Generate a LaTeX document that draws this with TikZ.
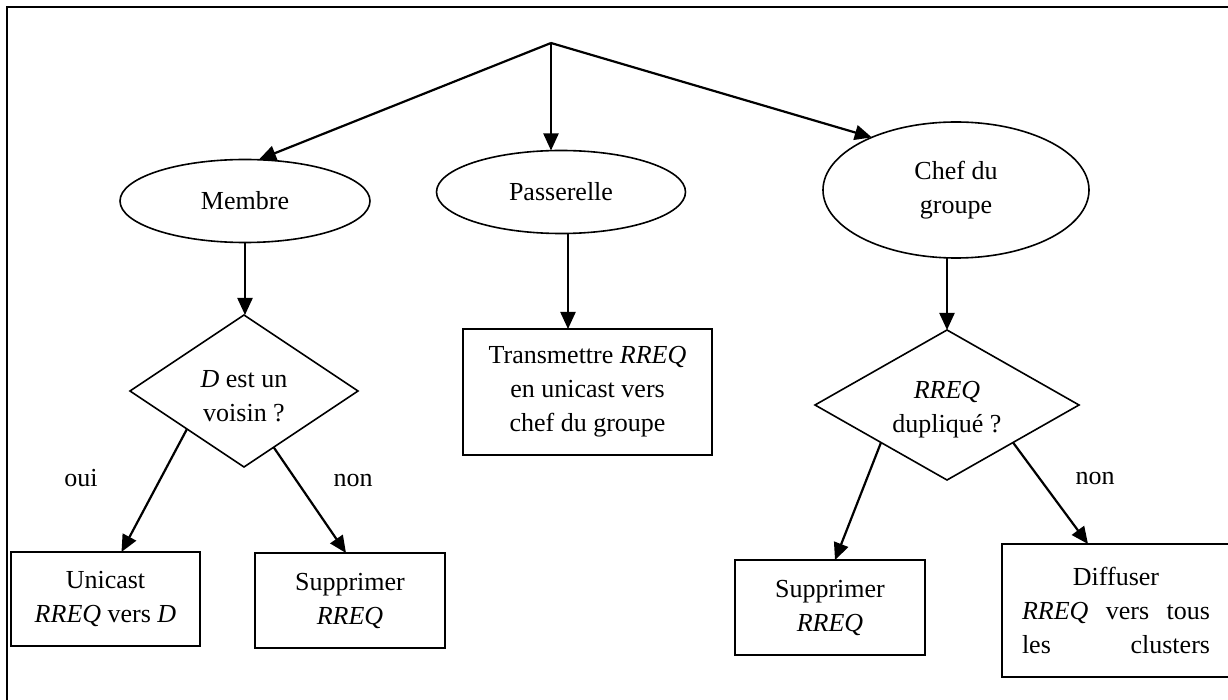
\documentclass[tikz,border=0pt]{standalone}
\usepackage{fontspec}
\setmainfont{Liberation Serif}
\usetikzlibrary{shapes.geometric,arrows.meta,calc}
\begin{document}
\begin{tikzpicture}[x=1pt,y=-1pt,
  every node/.style={font=\fontsize{26}{34}\selectfont, inner sep=0pt, outer sep=0pt},
  ell/.style={draw, ellipse, line width=1.6pt, align=center},
  dia/.style={draw, diamond, line width=1.6pt, aspect=1.5, align=center},
  box/.style={draw, rectangle, line width=1.6pt, align=center},
  txt/.style={align=center},
  arr/.style={line width=2.2pt, -{Triangle[length=17pt,width=15pt]}},
  lbl/.style={anchor=base}
]
\useasboundingbox (0,0) rectangle (1228,700);
\clip (0,0) rectangle (1228,700);
\draw[line width=2pt] (7,7) rectangle (1260,730);

\coordinate (apex) at (551,43);
\node[ell, minimum width=250pt, minimum height=83pt] (membre) at (245,201) {Membre};
\node[ell, minimum width=249pt, minimum height=83pt] (pass) at (561,192) {Passerelle};
\node[ell, minimum width=266pt, minimum height=136pt] (chef) at (956,190) {Chef du\\groupe};

\node[dia, minimum width=228pt, minimum height=152pt] (d1) at (244,391) {};
\node[txt] (d1t) at (244,396) {\textit{D} est un\\voisin ?};
\node[dia, minimum width=264pt, minimum height=150pt] (d2) at (947,405) {};
\node[txt] (d2t) at (947,410) {\textit{RREQ}\\dupliqué ?};

\node[box, minimum width=249pt, minimum height=126pt] (trans) at (587.5,392) {Transmettre \textit{RREQ}\\en unicast vers\\chef du groupe};
\node[box, minimum width=189pt, minimum height=94pt] (unicast) at (105.5,599) {Unicast\\\textit{RREQ} vers \textit{D}};
\node[box, minimum width=190pt, minimum height=95pt] (supp1) at (350,600.5) {Supprimer\\\textit{RREQ}};
\node[box, minimum width=190pt, minimum height=95pt] (supp2) at (830,607.5) {Supprimer\\\textit{RREQ}};
\node[box, minimum width=228pt, minimum height=133pt] (diff) at (1116,610.5) {Diffuser\\\makebox[188pt][s]{\textit{RREQ} vers tous}\\\makebox[188pt][s]{les clusters}};

\draw[arr] (apex) -- ([xshift=14pt]membre.north);
\draw[arr] (apex) -- (apex |- pass.north);
\draw[arr] (apex) -- (chef.148);

\draw[arr] (membre.south) -- (membre.south |- d1.north);
\draw[arr] ([xshift=7pt]pass.south) -- ([xshift=7pt]pass.south |- trans.north);
\draw[arr] (d2.north |- chef.south) -- (d2.north);

\draw[arr] (d1.south west) -- ([xshift=16pt]unicast.north);
\draw[arr] ($(d1.south)!0.26!(d1.east)$) -- ([xshift=-4pt]supp1.north);
\draw[arr] (d2.south west) -- ([xshift=5pt]supp2.north);
\draw[arr] (d2.south east) -- ([xshift=-28pt]diff.north);

\node[lbl] (oui) at (81,486) {oui};
\node[lbl] (non1) at (353,486) {non};
\node[lbl] (non2) at (1095,484) {non};
\end{tikzpicture}
\end{document}
